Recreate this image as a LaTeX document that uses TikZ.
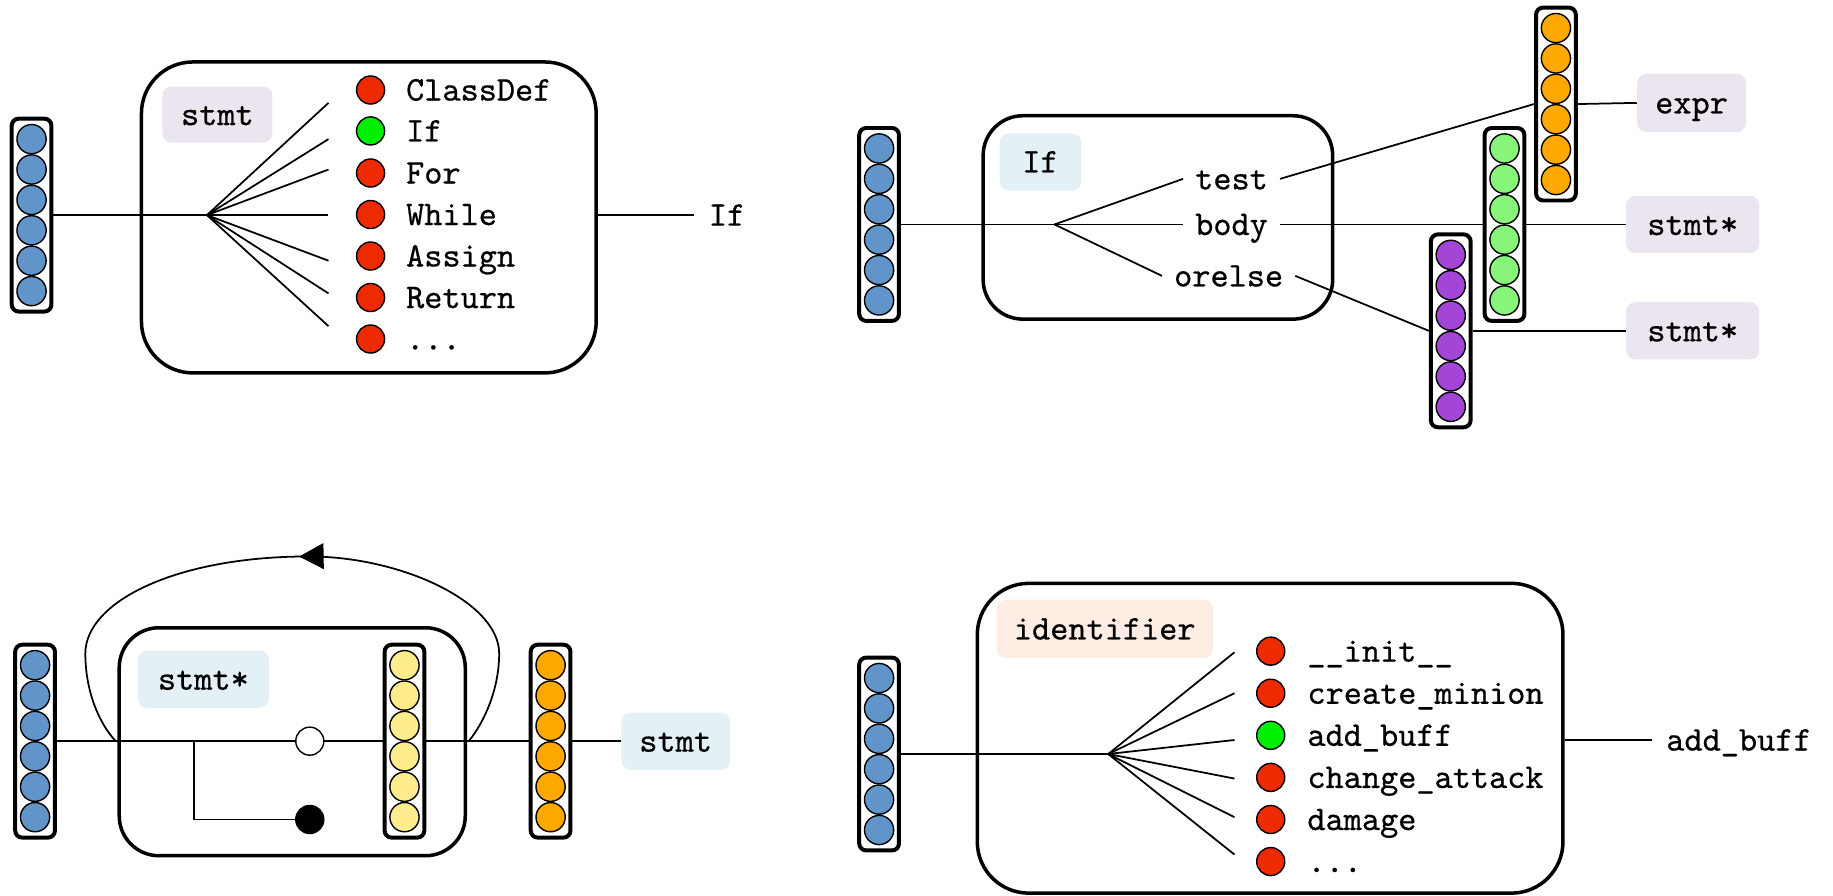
\documentclass[tikz,border=0pt]{standalone}
\usepackage{fontspec}
\usetikzlibrary{arrows.meta,decorations.markings,fit}

\newfontfamily\codeface{lmmono10-regular.otf}[FakeBold=0.6]

\definecolor{unitblue}{HTML}{6194C8}
\definecolor{unitorange}{HTML}{FFA800}
\definecolor{unitgreen}{HTML}{86F57A}
\definecolor{unitpurple}{HTML}{A346D8}
\definecolor{unityellow}{HTML}{FFEC8C}
\definecolor{dotred}{HTML}{EE2A00}
\definecolor{dotgreen}{HTML}{00EE00}
\definecolor{taglav}{HTML}{EBE5F0}
\definecolor{tagblue}{HTML}{E3F0F5}
\definecolor{tagpeach}{HTML}{FDEDE2}

\newcommand{\codefont}{\fontsize{14.8pt}{18pt}\selectfont\codeface}

\tikzset{
  wire/.style={line width=0.75pt},
  bigbox/.style={draw, line width=1.5pt, inner sep=0pt},
  colbox/.style={draw, fill=white, line width=1.7pt, rounded corners=3pt,
    minimum width=17pt, minimum height=82.5pt, inner sep=0pt},
  unit/.style={circle, draw, line width=0.6pt, minimum size=12.5pt, inner sep=0pt},
  dot/.style={circle, draw, line width=0.6pt, minimum size=12pt, inner sep=0pt},
  tag/.style={rounded corners=4pt, inner sep=0pt, font=\codefont,
    text height=9pt, text depth=0pt},
  code/.style={font=\codefont, text height=9pt, text depth=0pt, inner sep=0pt},
  loopwire/.style={wire, postaction={decorate}, decoration={markings,
    mark=at position 0.49 with {\arrow{Triangle[length=10.5pt,width=11pt]}}}},
}

% a vector of six units: name, x, y, fill colour
\newcommand{\veccol}[4]{%
  \node[colbox] (#1) at (#2,#3) {};
  \foreach \k in {0,...,5}{\node[unit, fill=#4] (#1-\k) at (#2,{#3+(\k-2.5)*26}) {};}
}
% one choice of a list: name, dot x, text x, y, dot colour, text
\newcommand{\choice}[6]{%
  \node[dot, fill=#5] (#1d) at (#2,#4) {};
  \node[code, anchor=west] (#1t) at (#3,#4) {#6};
}

\begin{document}
\begin{tikzpicture}[x=0.5pt, y=-0.5pt]
\useasboundingbox (0,0) rectangle (1568,766);

% ---------- statement type choice ----------
\node[bigbox, rounded corners=22pt, fit={(121,53) (510,319)}] (p1box) {};
\node[tag, fill=taglav, minimum width=47pt, minimum height=24pt] (p1tag) at (186,98) {stmt};
\coordinate (p1hub) at (177,184);
\foreach \y [count=\i] in {88,119,145,184,223,251,279}{
  \coordinate (p1e\i) at (281,\y);
  \draw[wire] (p1hub) -- (p1e\i);
}
\veccol{p1in}{27}{184}{unitblue}
\draw[wire] (p1in.east) -- (p1hub);
\choice{p1a}{317}{347}{77}{dotred}{ClassDef}
\choice{p1b}{317}{347}{112}{dotgreen}{If}
\choice{p1c}{317}{347}{148}{dotred}{For}
\choice{p1d}{317}{347}{183.5}{dotred}{While}
\choice{p1e}{317}{347}{219}{dotred}{Assign}
\choice{p1f}{317}{347}{254.5}{dotred}{Return}
\choice{p1g}{317}{347}{290}{dotred}{...}
\node[code, inner sep=6pt, anchor=west] (p1res) at (594,184) {If};
\draw[wire] (p1box.east |- p1res.west) -- (p1res.west);

% ---------- If node and its fields ----------
\node[bigbox, rounded corners=17pt, fit={(841,99) (1140,273)}] (p2box) {};
\node[tag, fill=tagblue, minimum width=35pt, minimum height=24.5pt] (p2tag) at (890,138.5) {If};
\coordinate (p2hub) at (902,192);
\node[code, inner sep=5pt, anchor=west] (p2test) at (1012,153) {test};
\node[code, inner sep=5pt, anchor=west] (p2body) at (1012,192) {body};
\node[code, inner sep=5pt, anchor=west] (p2orelse) at (994,236) {orelse};
\veccol{p2in}{752}{192}{unitblue}
\veccol{p2o}{1331}{89}{unitorange}
\veccol{p2g}{1287}{192}{unitgreen}
\veccol{p2p}{1241}{283}{unitpurple}
\node[tag, fill=taglav, minimum width=46.5pt, minimum height=25pt] (p2expr) at (1447,88) {expr};
\node[tag, fill=taglav, minimum width=57pt, minimum height=24.5pt] (p2s1) at (1448,192) {stmt*};
\node[tag, fill=taglav, minimum width=57pt, minimum height=24.5pt] (p2s2) at (1448,283) {stmt*};
\draw[wire] (p2in.east) -- (p2hub);
\draw[wire] (p2hub) -- (p2test.west);
\draw[wire] (p2hub) -- (p2body.west);
\draw[wire] (p2hub) -- (p2orelse.west);
\draw[wire] (p2test.east) -- (p2o.west);
\draw[wire] (p2body.east) -- (p2g.west);
\draw[wire] (p2orelse.east) -- (p2p.west);
\draw[wire] (p2o.east) -- (p2expr.west);
\draw[wire] (p2g.east) -- (p2s1.west);
\draw[wire] (p2p.east) -- (p2s2.west);

% ---------- statement sequence ----------
\node[bigbox, rounded corners=17pt, fit={(102,537) (398,732)}] (p3box) {};
\node[tag, fill=tagblue, minimum width=56pt, minimum height=24.5pt] (p3tag) at (174,581) {stmt*};
\veccol{p3in}{30}{634}{unitblue}
\veccol{p3y}{346}{634}{unityellow}
\veccol{p3o}{471}{634}{unitorange}
\node[tag, fill=tagblue, minimum width=46.5pt, minimum height=24.5pt] (p3out) at (578,634) {stmt};
\coordinate (p3br) at (166,634);
\draw[wire] (p3in.east) -- (p3y.west);
\draw[wire] (p3y.east) -- (p3o.west);
\draw[wire] (p3o.east) -- (p3out.west);
\node[circle, draw, fill=white, line width=0.6pt, minimum size=12pt, inner sep=0pt] (p3open) at (265,634) {};
\node[circle, draw, fill=black, line width=0.6pt, minimum size=12pt, inner sep=0pt] (p3shut) at (265,701) {};
\draw[wire] (p3br) |- (p3shut);
\coordinate (lpR) at (401,634);
\coordinate (lpL) at (99,634);
\draw[loopwire] (lpR) .. controls (414,618) and (427,590) .. (427,559)
  .. controls (427,515) and (343,476) .. (264,476)
  .. controls (150,476) and (73,515) .. (73,559)
  .. controls (73,590) and (84,618) .. (lpL);

% ---------- identifier choice ----------
\node[bigbox, rounded corners=22pt, fit={(836,499) (1337,764)}] (p4box) {};
\node[tag, fill=tagpeach, minimum width=92.5pt, minimum height=25pt] (p4tag) at (945,538) {identifier};
\coordinate (p4hub) at (948,645);
\foreach \y [count=\i] in {558,593,633,666,699,731}{
  \coordinate (p4e\i) at (1056,\y);
  \draw[wire] (p4hub) -- (p4e\i);
}
\veccol{p4in}{752}{645}{unitblue}
\draw[wire] (p4in.east) -- (p4hub);
\choice{p4a}{1087}{1118}{557}{dotred}{\_\_init\_\_}
\choice{p4b}{1087}{1118}{593}{dotred}{create\_minion}
\choice{p4c}{1087}{1118}{629}{dotgreen}{add\_buff}
\choice{p4d}{1087}{1118}{665}{dotred}{change\_attack}
\choice{p4e}{1087}{1118}{701}{dotred}{damage}
\choice{p4f}{1087}{1118}{737}{dotred}{...}
\node[code, inner sep=6pt, anchor=west] (p4res) at (1413,633) {add\_buff};
\draw[wire] (p4box.east |- p4res.west) -- (p4res.west);
\end{tikzpicture}
\end{document}
